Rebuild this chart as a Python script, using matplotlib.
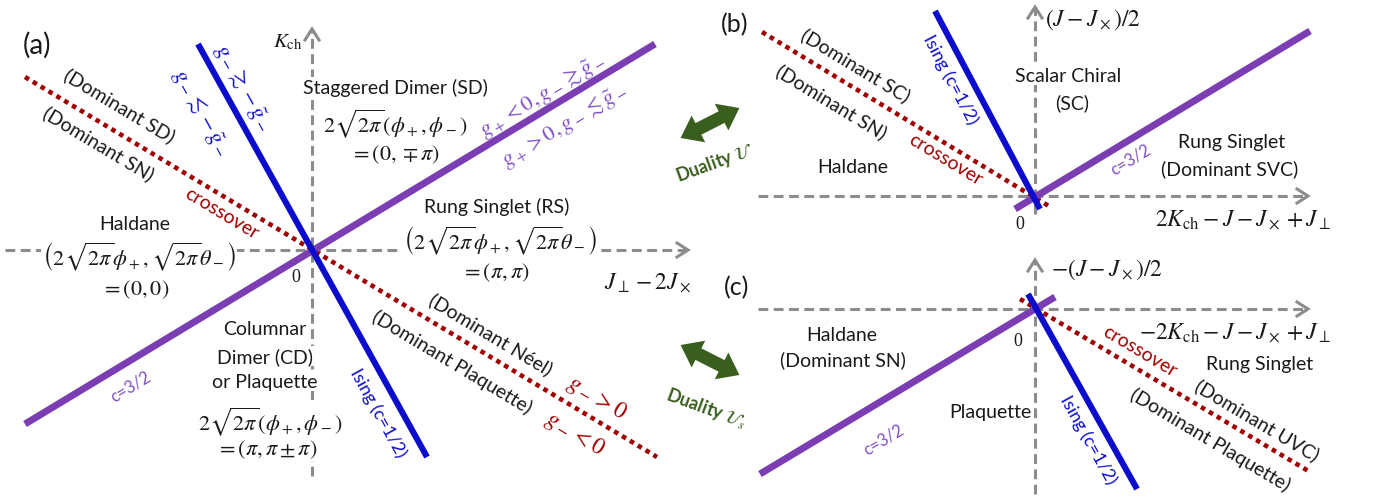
import numpy as np
import matplotlib
matplotlib.use("Agg")
import matplotlib.pyplot as plt
from matplotlib.patches import Polygon

plt.rcParams['font.family'] = ['Lato', 'DejaVu Sans']
plt.rcParams['mathtext.fontset'] = 'stix'

W, H = 1374, 502

# ---- phase boundaries: endpoints (x, y) in figure pixels ----
a_ising = [(198, 45), (427, 458)]
a_c32 = [(25, 425), (655, 45)]
a_cross = [(25, 78), (657, 458)]
b_ising = [(935, 12), (1040, 210)]
b_c32 = [(1015, 210), (1310, 32)]
b_cross = [(762, 33), (1052, 209)]
c_ising = [(1028, 295), (1137, 490)]
c_c32 = [(760, 475), (1055, 298)]
c_cross = [(1020, 300), (1310, 473)]

# ---- coupling axes: tail, arrow tip ----
axes_segments = [
    [(5, 251), (688, 251)],
    [(312, 477), (312, 30)],
    [(758, 197), (1308, 197)],
    [(1035, 215), (1035, 8)],
    [(758, 310), (1308, 310)],
    [(1035, 495), (1035, 261)],
]

# ---- duality arrows: centre, angle (deg) ----
duality_arrows = [((710, 124), 27), ((710, 361), -27)]

GRAY = '#8c8c8c'
BLUE = '#0c0ccc'
PURPLE = '#7a3db2'
PURPLE_TXT = '#8050c4'
RED = '#a00000'
GREEN = '#3a5e1e'

fig = plt.figure(figsize=(W / 100, H / 100), dpi=100)
ax = fig.add_axes([0, 0, 1, 1])
ax.set_xlim(0, W)
ax.set_ylim(H, 0)
ax.axis('off')


def angle(seg):
    (x0, y0), (x1, y1) = seg
    return np.degrees(np.arctan2(-(y1 - y0), x1 - x0))


def draw_axis(seg):
    (x0, y0), (x1, y1) = seg
    ax.plot([x0, x1], [y0, y1], color=GRAY, lw=2.2,
            linestyle=(0, (3.2, 1.8)), zorder=1, solid_capstyle='butt')
    d = np.array([x1 - x0, y1 - y0], float)
    d /= np.linalg.norm(d)
    n = np.array([-d[1], d[0]])
    tip = np.array([x1, y1], float)
    hl, hw = 11, 7
    p1 = tip - d * hl + n * hw
    p2 = tip - d * hl - n * hw
    ax.plot([p1[0], tip[0], p2[0]], [p1[1], tip[1], p2[1]], color=GRAY,
            lw=2.2, zorder=1, solid_joinstyle='miter')


def draw_line(seg, color, lw, style='-'):
    xs = [p[0] for p in seg]
    ys = [p[1] for p in seg]
    if style == ':':
        ax.plot(xs, ys, color=color, lw=3.3, linestyle=(0, (1, 1)),
                dash_capstyle='butt', zorder=5)
    else:
        ax.plot(xs, ys, color=color, lw=lw, solid_capstyle='butt', zorder=6)


def label(x, y, s, size=14, color='#1a1a1a', rot=0, box=False, **kw):
    bbox = dict(facecolor='white', edgecolor='none', pad=0.5) if box else None
    ax.text(x, y, s, fontsize=size, color=color, rotation=rot,
            rotation_mode='anchor', ha='center', va='center', bbox=bbox,
            zorder=4, linespacing=1.1, **kw)


def double_arrow(center, ang):
    L, hl, hw, sw = 66, 20, 15, 6.5
    pts = np.array([
        (-L / 2, 0), (-L / 2 + hl, hw), (-L / 2 + hl, sw), (L / 2 - hl, sw),
        (L / 2 - hl, hw), (L / 2, 0), (L / 2 - hl, -hw), (L / 2 - hl, -sw),
        (-L / 2 + hl, -sw), (-L / 2 + hl, -hw)])
    t = np.radians(ang)
    # screen y points down in these coordinates
    R = np.array([[np.cos(t), np.sin(t)], [-np.sin(t), np.cos(t)]])
    pts = pts @ R.T + np.array(center)
    ax.add_patch(Polygon(pts, closed=True, facecolor=GREEN, edgecolor='none',
                         zorder=3))


for seg in axes_segments:
    draw_axis(seg)

for ising, c32, cross in [(a_ising, a_c32, a_cross), (b_ising, b_c32, b_cross),
                          (c_ising, c_c32, c_cross)]:
    draw_line(cross, RED, 3.3, ':')
    draw_line(c32, PURPLE, 5.0)
    draw_line(ising, BLUE, 4.4)

for c, ang in duality_arrows:
    double_arrow(c, ang)

# ---------------- panel (a) ----------------
label(37, 45, '(a)', size=20)
label(288, 42, r'$K_{\rm ch}$', size=15)
label(395, 88, 'Staggered Dimer (SD)', box=True)
label(395, 124, r'$2\sqrt{2\pi}(\phi_+,\phi_-)$', size=16, box=True)
label(395, 155, r'$=(0,\mp\pi)$', size=16, box=True)
label(135, 225, 'Haldane')
label(139, 257, r'$\left(2\sqrt{2\pi}\phi_+,\sqrt{2\pi}\theta_-\right)$', size=16, box=True)
label(135, 290, r'$=(0,0)$', size=16)
label(296, 278, '0', size=13, family='Liberation Serif')
label(265, 330, 'Columnar', box=True)
label(265, 357, 'Dimer (CD)', box=True)
label(265, 383, 'or Plaquette', box=True)
label(270, 422, r'$2\sqrt{2\pi}(\phi_+,\phi_-)$', size=16, box=True)
label(267, 450, r'$=(\pi,\pi\pm\pi)$', size=16, box=True)
label(497, 207, 'Rung Singlet (RS)')
label(500, 241, r'$\left(2\sqrt{2\pi}\phi_+,\sqrt{2\pi}\theta_-\right)$', size=16, box=True)
label(495, 273, r'$=(\pi,\pi)$', size=16)
label(648, 283, r'$J_\perp-2J_\times$', size=17)

ra = angle(a_c32)
ia = angle(a_ising)
ca = angle(a_cross)
label(130, 387, 'c=3/2', size=12, color=PURPLE_TXT, rot=ra)
label(543, 97, r'$g_+<0,g_-\gtrsim\tilde{g}_-$', size=16, color=PURPLE_TXT, rot=ra)
label(565, 127, r'$g_+>0,g_-\lesssim\tilde{g}_-$', size=16, color=PURPLE_TXT, rot=ra)
label(242, 88, r'$g_-\gtrsim-\tilde{g}_-$', size=16, color=BLUE, rot=ia)
label(200, 113, r'$g_-\lesssim-\tilde{g}_-$', size=16, color=BLUE, rot=ia)
label(378, 413, 'Ising (c=1/2)', size=13, color=BLUE, rot=ia)
label(119, 106, '(Dominant SD)', rot=ca)
label(98, 144, '(Dominant SN)', rot=ca)
label(222, 214, 'crossover', color=RED, rot=ca)
label(491, 335, '(Dominant Néel)', rot=ca)
label(452, 362, '(Dominant Plaquette)', rot=ca)
label(596, 398, r'$g_->0$', size=17, color=RED, rot=ca)
label(574, 434, r'$g_-<0$', size=17, color=RED, rot=ca)

# ---------------- duality ----------------
label(715, 163, r'Duality $\mathcal{U}$', size=13, color=GREEN, rot=20,
      fontweight='bold')
label(706, 409, r'Duality $\mathcal{U}_s$', size=13, color=GREEN, rot=-20,
      fontweight='bold')

# ---------------- panel (b) ----------------
rb = angle(b_c32)
ib = angle(b_ising)
cb = angle(b_cross)
label(735, 25, '(b)', size=18)
label(1093, 20, r'$(J-J_\times)/2$', size=17)
label(1068, 77, 'Scalar Chiral', box=True)
label(1072, 103, '(SC)', box=True)
label(853, 168, 'Haldane')
label(1232, 143, 'Rung Singlet')
label(1230, 169, '(Dominant SVC)')
label(1020, 225, '0', size=13, family='Liberation Serif')
label(1243, 220, r'$2K_{\rm ch}-J-J_\times+J_\perp$', size=17)
label(856, 66, '(Dominant SC)', rot=cb)
label(831, 102, '(Dominant SN)', rot=cb)
label(945, 160, 'crossover', color=RED, rot=cb)
label(950, 80, 'Ising (c=1/2)', size=13, color=BLUE, rot=ib)
label(1130, 160, 'c=3/2', size=12, color=PURPLE_TXT, rot=rb)

# ---------------- panel (c) ----------------
rc = angle(c_c32)
ic = angle(c_ising)
cc = angle(c_cross)
label(737, 288, '(c)', size=18)
label(1107, 270, r'$-(J-J_\times)/2$', size=17)
label(842, 336, 'Haldane')
label(843, 360, '(Dominant SN)')
label(1018, 342, '0', size=13, family='Liberation Serif')
label(1235, 333, r'$-2K_{\rm ch}-J-J_\times+J_\perp$', size=17)
label(1260, 365, 'Rung Singlet')
label(990, 413, 'Plaquette', box=True)
label(1140, 352, 'crossover', color=RED, rot=cc)
label(1257, 421, '(Dominant UVC)', rot=cc)
label(1210, 440, '(Dominant Plaquette)', rot=cc)
label(1088, 440, 'Ising (c=1/2)', size=13, color=BLUE, rot=ic)
label(883, 440, 'c=3/2', size=12, color=PURPLE_TXT, rot=rc)

fig.savefig('out.png', dpi=100, facecolor='white')
